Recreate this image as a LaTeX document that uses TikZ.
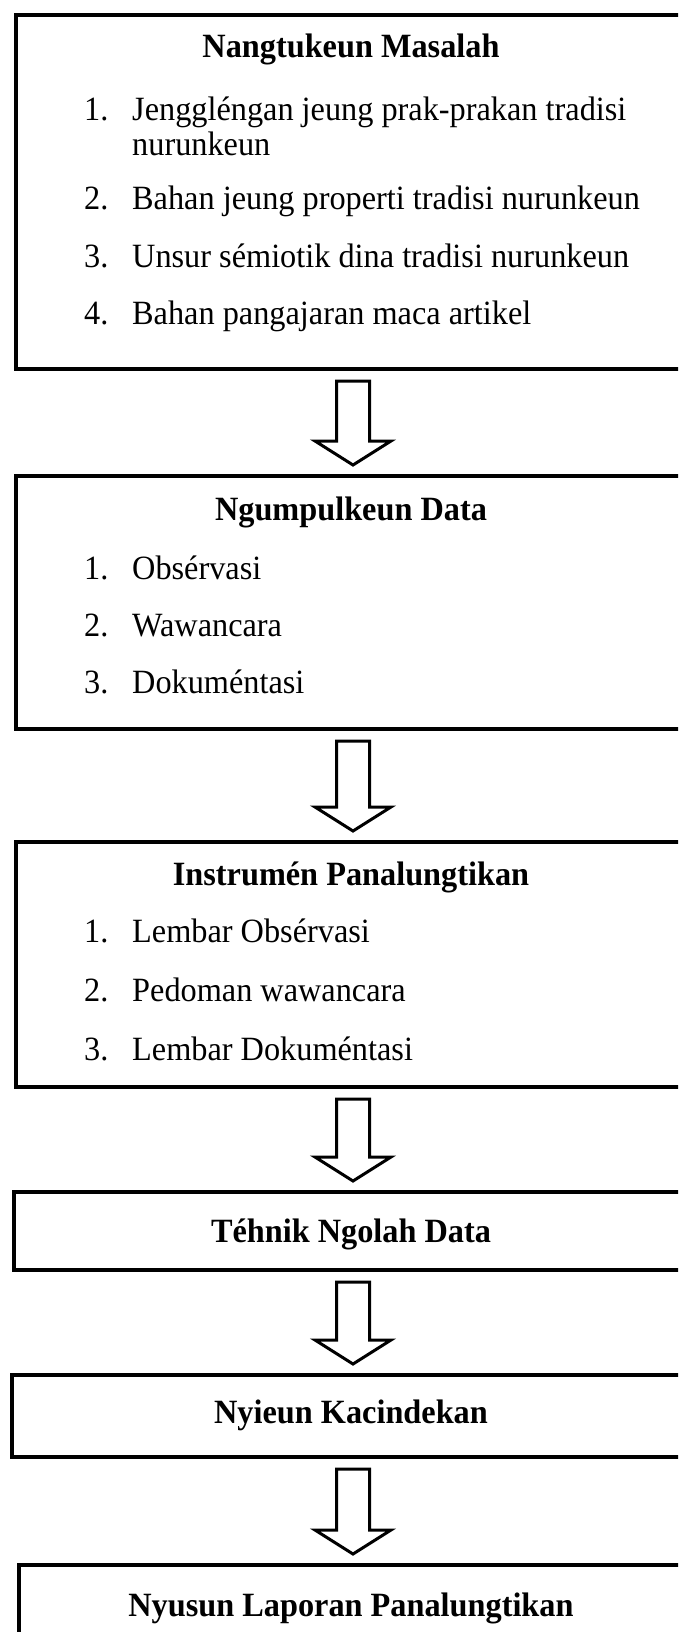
\documentclass[tikz,border=0pt]{standalone}
\usepackage{fontspec}
\setmainfont{Liberation Serif}[FakeStretch=0.95]
\usetikzlibrary{calc}

\begin{document}
\begin{tikzpicture}[x=1pt,y=-1pt,
  box/.style={draw,line width=4pt,rectangle,anchor=north west,inner sep=0},
  ttl/.style={anchor=base,inner sep=0,font=\fontsize{34}{40}\selectfont\bfseries},
  itm/.style={anchor=base west,inner sep=0,font=\fontsize{34}{40}\selectfont},
  blockarr/.style={line width=3pt,to path={let \p1=(\tikztostart), \p2=(\tikztotarget) in
    (\x1-16.5pt,\y1-10pt) -- (\x1+16.5pt,\y1-10pt) -- (\x1+16.5pt,\y2+33pt) -- (\x1+38pt,\y2+33pt)
    -- (\x1,\y2+9pt) -- (\x1-38pt,\y2+33pt) -- (\x1-16.5pt,\y2+33pt) -- cycle}}]
\useasboundingbox (0,0) rectangle (678,1632);
\clip (0,0) rectangle (678,1632);

\node[box, minimum width=674, minimum height=354] (b1) at (14,13) {};
\node[box, minimum width=674, minimum height=253] (b2) at (14,474) {};
\node[box, minimum width=674, minimum height=245] (b3) at (14,840) {};
\node[box, minimum width=678, minimum height=78]  (b4) at (12,1190) {};
\node[box, minimum width=682, minimum height=82]  (b5) at (10,1373) {};
\node[box, minimum width=668, minimum height=140] (b6) at (17,1563) {};

\node[ttl] (t1) at (351,58)   {Nangtukeun Masalah};
\node[ttl] (t2) at (351,520)  {Ngumpulkeun Data};
\node[ttl] (t3) at (351,885)  {Instrumén Panalungtikan};
\node[ttl] (t4) at (351,1242) {Téhnik Ngolah Data};
\node[ttl] (t5) at (351,1423) {Nyieun Kacindekan};
\node[ttl] (t6) at (351,1616) {Nyusun Laporan Panalungtikan};

\node[itm] (n1-1) at (84,121) {1.};
\node[itm] (i1-1) at (132,121) {Jenggléngan jeung prak-prakan tradisi};
\node[itm] (i1-1b) at (132,156) {nurunkeun};
\foreach \n/\y/\t in {2/210/Bahan jeung properti tradisi nurunkeun,
                      3/267/Unsur sémiotik dina tradisi nurunkeun,
                      4/324/Bahan pangajaran maca artikel} {
  \node[itm] (n1-\n) at (84,\y) {\n.};
  \node[itm] (i1-\n) at (132,\y) {\t};
}
\foreach \n/\y/\t in {1/579/Obsérvasi, 2/636/Wawancara, 3/693/Dokuméntasi} {
  \node[itm] (n2-\n) at (84,\y) {\n.};
  \node[itm] (i2-\n) at (132,\y) {\t};
}
\foreach \n/\y/\t in {1/942/Lembar Obsérvasi, 2/1001/Pedoman wawancara, 3/1060/Lembar Dokuméntasi} {
  \node[itm] (n3-\n) at (84,\y) {\n.};
  \node[itm] (i3-\n) at (132,\y) {\t};
}

\draw[blockarr] (b1.south) to (b2.north);
\draw[blockarr] (b2.south) to (b3.north);
\draw[blockarr] (b3.south) to (b4.north);
\draw[blockarr] (b4.south) to (b5.north);
\draw[blockarr] (b5.south) to (b6.north);
\end{tikzpicture}
\end{document}
